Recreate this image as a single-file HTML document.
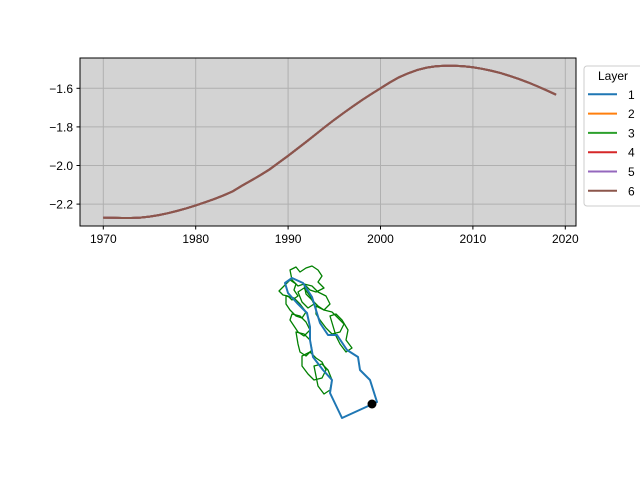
<!DOCTYPE html>
<html><head><meta charset="utf-8">
<style>
body{margin:0;background:#fff;}
svg{display:block;font-family:"Liberation Sans","DejaVu Sans",sans-serif;}
</style></head>
<body>
<svg id="chart" width="640" height="480" viewBox="0 0 640 480" xmlns="http://www.w3.org/2000/svg">
<rect x="80" y="58" width="496" height="168" fill="#d3d3d3"/>
<g id="grid"></g>
<g id="series"></g>
<rect x="80" y="58" width="496" height="168" fill="none" stroke="#000" stroke-width="1"/>
<g id="xticks"></g>
<g id="yticks"></g>
<g>
 <rect x="584" y="66" width="60" height="140" rx="3" fill="#fff" stroke="#ccc"/>
 <text x="613" y="80" font-size="12" text-anchor="middle">Layer</text>
 <g id="legend-entries"></g>
</g>
<g fill="none" stroke-linejoin="round">
 <g stroke="#008000" stroke-width="1.3">
  <path d="M290,270 L296,267 L300,272 L306,268 L312,266 L318,270 L322,276 L318,282 L324,288 L316,292 L310,290 L304,284 L298,286 L292,280 Z"/>
  <path d="M279,291 L285,285 L290,280 L296,284 L294,290 L298,296 L292,300 L288,296 L283,295 Z"/>
  <path d="M304,284 L312,286 L318,292 L326,296 L330,304 L324,310 L318,306 L312,300 L306,294 Z"/>
  <path d="M316,306 L324,310 L332,312 L338,318 L344,324 L340,332 L332,334 L326,328 L320,320 L316,314 Z"/>
  <path d="M330,316 L336,314 L342,320 L348,330 L346,340 L352,348 L346,352 L340,344 L336,336 Z"/>
  <path d="M286,296 L294,298 L300,304 L306,312 L302,318 L296,316 L290,310 L286,304 Z"/>
  <path d="M292,314 L300,316 L306,322 L310,330 L304,336 L298,332 L294,326 L290,320 Z"/>
  <path d="M296,332 L304,334 L310,340 L312,350 L306,356 L300,352 L298,344 Z"/>
  <path d="M302,356 L310,352 L316,358 L322,362 L326,370 L322,378 L314,380 L308,374 L302,366 Z"/>
  <path d="M314,366 L322,364 L328,370 L332,380 L330,390 L324,394 L318,386 L316,376 Z"/>
  <path d="M298,292 L304,288 L310,296 L314,304 L308,308 L302,302 Z"/>
 </g>
 <path stroke="#1f77b4" stroke-width="2" d="M292,278 L303,283 L312,297 L320,323 L328,335 L337,335 L347,350 L358,357 L360,370 L370,380 L377,402 L342,418 L330,393 L332,380 L323,370 L313,357 L310,340 L310,327 L307,313 L297,303 L288,293 L285,283 Z"/>
 <circle cx="372" cy="404" r="4.5" fill="#000" stroke="none"/>
</g>
</svg>
<script>
const years=[1970,1971,1972,1973,1974,1975,1976,1977,1978,1979,1980,1981,1982,1983,1984,1985,1986,1987,1988,1989,1990,1991,1992,1993,1994,1995,1996,1997,1998,1999,2000,2001,2002,2003,2004,2005,2006,2007,2008,2009,2010,2011,2012,2013,2014,2015,2016,2017,2018,2019];
const values=[-2.270,-2.271,-2.272,-2.272,-2.270,-2.265,-2.257,-2.247,-2.235,-2.222,-2.207,-2.191,-2.174,-2.155,-2.134,-2.105,-2.078,-2.050,-2.020,-1.985,-1.950,-1.913,-1.876,-1.838,-1.800,-1.763,-1.728,-1.694,-1.661,-1.630,-1.600,-1.570,-1.543,-1.522,-1.505,-1.493,-1.486,-1.483,-1.483,-1.486,-1.491,-1.499,-1.509,-1.521,-1.536,-1.552,-1.570,-1.590,-1.611,-1.633];
const layers=["1","2","3","4","5","6"];
const colors=["#1f77b4","#ff7f0e","#2ca02c","#d62728","#9467bd","#8c564b"];
const xTicks=[1970,1980,1990,2000,2010,2020];
const yTicks=[-2.2,-2.0,-1.8,-1.6];
const yTickLabels=["\u22122.2","\u22122.0","\u22121.8","\u22121.6"];

const NS="http://www.w3.org/2000/svg";
function xs(v){return 103.3+(v-1970)*9.24;}
function ys(v){return 88.3+(-1.6-v)*193;}
function mk(t,a,p){const e=document.createElementNS(NS,t);for(const k in a)e.setAttribute(k,a[k]);p.appendChild(e);return e;}
const grid=document.getElementById('grid'),xg=document.getElementById('xticks'),yg=document.getElementById('yticks');
xTicks.forEach(t=>{const x=xs(t);
 const g=mk('line',{x1:x,x2:x,y1:58,y2:226,stroke:'#b0b0b0','stroke-width':1},grid);
 
 
 const tk=mk('line',{x1:x,x2:x,y1:226,y2:229.5,stroke:'#000'},xg);
 
 
 const tx=mk('text',{x:x,y:243,'font-size':12,'text-anchor':'middle'},xg);tx.textContent=t;
 
 
});
yTicks.forEach((t,i)=>{const y=ys(t);
 const g=mk('line',{x1:80,x2:576,y1:y,y2:y,stroke:'#b0b0b0','stroke-width':1},grid);
 
 
 const tk=mk('line',{x1:76.5,x2:80,y1:y,y2:y,stroke:'#000'},yg);
 
 
 const tx=mk('text',{x:73,y:y+4.5,'font-size':12,'text-anchor':'end'},yg);tx.textContent=yTickLabels[i];
 
 
});
const sg=document.getElementById('series');
const d=years.map((yr,i)=>(i?'L':'M')+xs(yr).toFixed(2)+','+ys(values[i]).toFixed(2)).join(' ');
layers.forEach((l,i)=>{
 const p=mk('path',{d:d,fill:'none',stroke:colors[i],'stroke-width':2},sg);
 
 
});
const lg=document.getElementById('legend-entries');
layers.forEach((l,i)=>{const y=94.3+i*19.3;
 const ln=mk('line',{x1:588,x2:617,y1:y,y2:y,stroke:colors[i],'stroke-width':2},lg);
 
 
 const tx=mk('text',{x:628,y:y+4.5,'font-size':12},lg);tx.textContent=l;
 
 
});
</script>
</body></html>
